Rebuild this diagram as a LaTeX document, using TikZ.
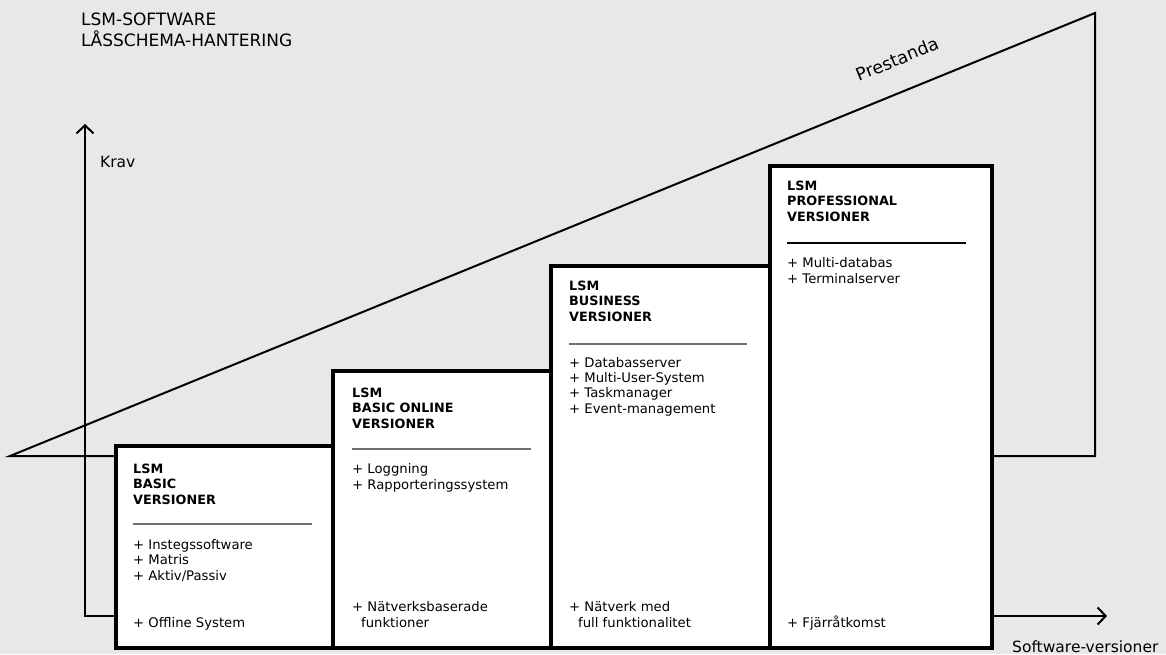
\documentclass[tikz,border=0pt]{standalone}
\usepackage{fontspec}
\setmainfont{DejaVu Sans}
\usetikzlibrary{arrows.meta}
\definecolor{bg}{HTML}{E8E8E8}
\definecolor{sepgray}{HTML}{707070}
\tikzset{
  thinline/.style={line width=2pt, black},
  vbox/.style={draw=black, line width=4pt, fill=white, rectangle, inner sep=0pt, anchor=north west},
  headtxt/.style={anchor=base west, inner sep=0pt, align=left, font=\bfseries\fontsize{12.8}{15.5}\selectfont},
  itemtxt/.style={anchor=base west, inner sep=0pt, align=left, font=\fontsize{13.2}{15.3}\selectfont},
  sepline/.style={draw=sepgray, line width=1.5pt},
  barb/.style={{Straight Barb[length=8pt,width=17pt,line width=2pt]}-{Straight Barb[length=8pt,width=17pt,line width=2pt]}}
}
\begin{document}
\begin{tikzpicture}[x=1pt,y=-1pt]
\useasboundingbox (0,0) rectangle (1166,654);
\fill[bg] (0,0) rectangle (1166,654);

% title (anchor = baseline of last line)
\node[anchor=base west, inner sep=0pt, align=left, font=\fontsize{17}{21}\selectfont] (title) at (81,46) {LSM-SOFTWARE\\LÅSSCHEMA-HANTERING};

% performance triangle
\coordinate (tl) at (10,456);
\coordinate (tt) at (1095,13);
\coordinate (tb) at (1095,456);
\draw[thinline, line join=miter] (tl) -- (tt) -- (tb) -- cycle;
\node[rotate=22.2, inner sep=0pt, font=\fontsize{17.5}{20}\selectfont] (prest) at (897,59) {Prestanda};

% axes
\coordinate (vtop) at (85,124);
\coordinate (corner) at (85,616);
\coordinate (hend) at (1107,616);
\draw[thinline, line join=miter, barb] (vtop) -- (corner) -- (hend);
\node[anchor=base west, inner sep=0pt, font=\fontsize{15.5}{18}\selectfont] (krav) at (100,167) {Krav};
\node[anchor=base west, inner sep=0pt, font=\fontsize{15.5}{18}\selectfont] (swv) at (1012,652) {Software-versioner};

% boxes
\node[vbox, minimum width=217pt, minimum height=202pt] (b1) at (114,444) {};
\node[vbox, minimum width=218pt, minimum height=277pt] (b2) at (331,369) {};
\node[vbox, minimum width=219pt, minimum height=382pt] (b3) at (549,264) {};
\node[vbox, minimum width=222pt, minimum height=482pt] (b4) at (768,164) {};

% box 1
\node[headtxt] (h1) at (133,504) {LSM\\BASIC\\VERSIONER};
\coordinate (s1a) at (133,524); \coordinate (s1b) at (312,524);
\draw[sepline] (s1a) -- (s1b);
\node[itemtxt] (i1) at (133,580) {+ Instegssoftware\\+ Matris\\+ Aktiv/Passiv};
\node[itemtxt] (f1) at (133,627) {+ Offline System};

% box 2
\node[headtxt] (h2) at (352,428) {LSM\\BASIC ONLINE\\VERSIONER};
\coordinate (s2a) at (352,449); \coordinate (s2b) at (531,449);
\draw[sepline] (s2a) -- (s2b);
\node[itemtxt] (i2) at (352,489) {+ Loggning\\+ Rapporteringssystem};
\node[itemtxt] (f2) at (352,627) {+ Nätverksbaserade\\\hspace*{9pt}funktioner};

% box 3
\node[headtxt] (h3) at (569,321) {LSM\\BUSINESS\\VERSIONER};
\coordinate (s3a) at (569,344); \coordinate (s3b) at (747,344);
\draw[sepline] (s3a) -- (s3b);
\node[itemtxt] (i3) at (569,413) {+ Databasserver\\+ Multi-User-System\\+ Taskmanager\\+ Event-management};
\node[itemtxt] (f3) at (569,627) {+ Nätverk med\\\hspace*{9pt}full funktionalitet};

% box 4
\node[headtxt] (h4) at (787,221) {LSM\\PROFESSIONAL\\VERSIONER};
\coordinate (s4a) at (787,243); \coordinate (s4b) at (966,243);
\draw[draw=black, line width=1.2pt] (s4a) -- (s4b);
\node[itemtxt] (i4) at (787,283) {+ Multi-databas\\+ Terminalserver};
\node[itemtxt] (f4) at (787,627) {+ Fjärråtkomst};
\end{tikzpicture}
\end{document}
